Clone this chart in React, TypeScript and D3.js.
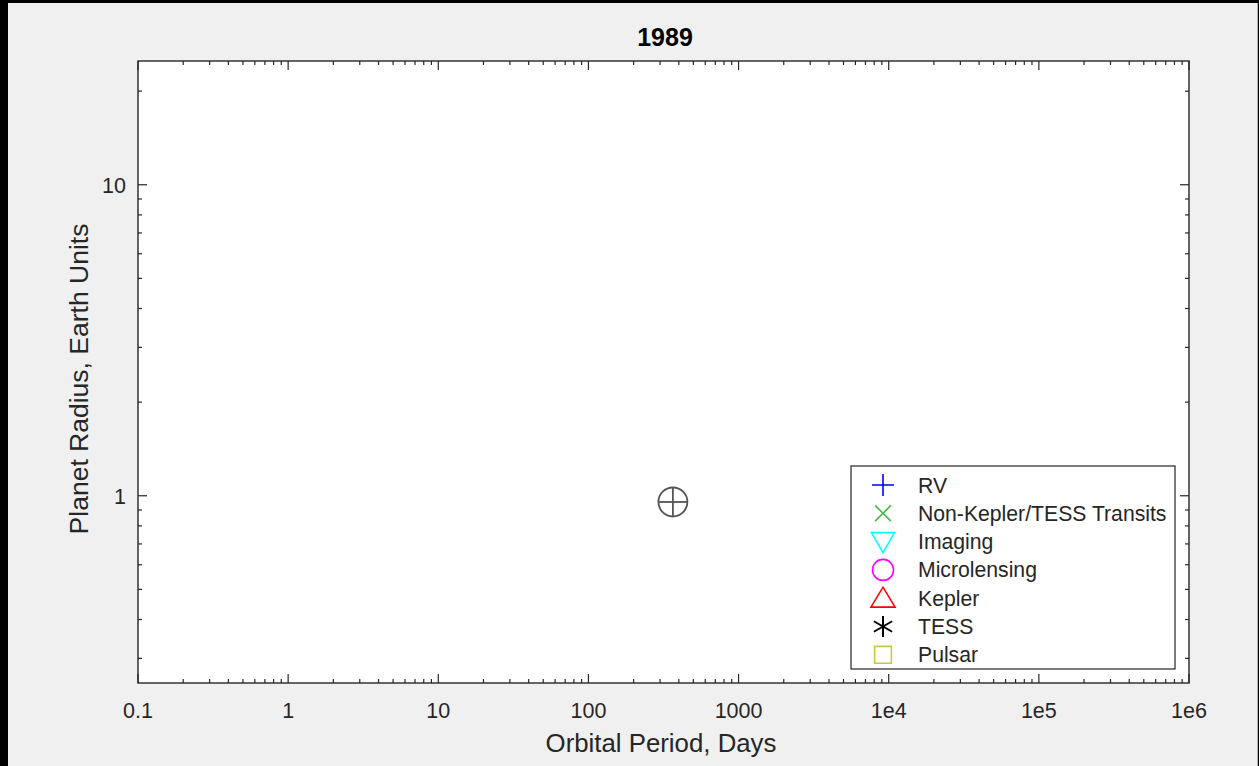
import React from "react";
import * as d3 from "d3";

// ---- Data ----
const titleText = "1989";
const xTickValues = [0.1, 1, 10, 100, 1000, 1e4, 1e5, 1e6];
const xTickLabels = ["0.1", "1", "10", "100", "1000", "1e4", "1e5", "1e6"];
const yTickValues = [1, 10];
const yTickLabels = ["1", "10"];
const xDomain = [0.1, 1e6];
const yDomain = [0.25, 25];

const methodNames = ["RV", "Non-Kepler/TESS Transits", "Imaging", "Microlensing", "Kepler", "TESS", "Pulsar"];
const methodColors = ["#0000ff", "#45bb45", "#00ffff", "#ff00ff", "#ff0000", "#000000", "#c8c840"];
const methodShapes = ["plus", "x", "tridown", "circle", "triup", "asterisk", "square"];
// planets discovered by 1989 per method (none)
const rvPeriods: number[] = [];
const rvRadii: number[] = [];

const earthPeriod = [365.25];
const earthRadius = [0.955];

const W = 1259, H = 766;
const L = 138, R = 1189, T = 61, B = 683;
const FONT = "'Liberation Sans', Arial, Helvetica, sans-serif";
const AX = "#262626";

function markerPath(shape: string, s: number): string {
  switch (shape) {
    case "plus": return `M${-s},0H${s}M0,${-s}V${s}`;
    case "x": { const a = s * 0.75; return `M${-a},${-a}L${a},${a}M${-a},${a}L${a},${-a}`; }
    case "tridown": return `M${-s * 1.1},${-s * 0.85}L${s * 1.1},${-s * 0.85}L0,${s * 1.05}Z`;
    case "triup": return `M${-s * 1.15},${s * 0.85}L${s * 1.15},${s * 0.85}L0,${-s * 1.05}Z`;
    case "circle": return `M${s},0A${s},${s} 0 1,1 ${-s},0A${s},${s} 0 1,1 ${s},0Z`;
    case "asterisk": {
      const a = s * 0.87, b = s * 0.5;
      return `M0,${-s}V${s}M${-a},${-b}L${a},${b}M${-a},${b}L${a},${-b}`;
    }
    case "square": { const a = s * 0.8; return `M${-a},${-a}H${a}V${a}H${-a}Z`; }
  }
  return "";
}

export default function App() {
  const x = d3.scaleLog().domain(xDomain).range([L, R]);
  const y = d3.scaleLog().domain(yDomain).range([B, T]);

  const xMinor: number[] = [];
  for (let e = -1; e < 6; e++) for (let k = 2; k <= 9; k++) xMinor.push(k * Math.pow(10, e));
  const yMinor: number[] = [];
  for (let e = -1; e <= 1; e++) for (let k = 2; k <= 9; k++) {
    const v = k * Math.pow(10, e);
    if (v > yDomain[0] && v < yDomain[1]) yMinor.push(v);
  }
  const MAJ = 9, MIN = 4;

  const ticks: JSX.Element[] = [];
  xTickValues.forEach((v, i) => {
    const px = x(v);
    ticks.push(<line key={"xb" + i} x1={px} x2={px} y1={B} y2={B - MAJ} />);
    ticks.push(<line key={"xt" + i} x1={px} x2={px} y1={T} y2={T + MAJ} />);
  });
  xMinor.forEach((v, i) => {
    const px = x(v);
    ticks.push(<line key={"xmb" + i} x1={px} x2={px} y1={B} y2={B - MIN} />);
    ticks.push(<line key={"xmt" + i} x1={px} x2={px} y1={T} y2={T + MIN} />);
  });
  yTickValues.forEach((v, i) => {
    const py = y(v);
    ticks.push(<line key={"yl" + i} x1={L} x2={L + MAJ} y1={py} y2={py} />);
    ticks.push(<line key={"yr" + i} x1={R} x2={R - MAJ} y1={py} y2={py} />);
  });
  yMinor.forEach((v, i) => {
    const py = y(v);
    ticks.push(<line key={"yml" + i} x1={L} x2={L + MIN} y1={py} y2={py} />);
    ticks.push(<line key={"ymr" + i} x1={R} x2={R - MIN} y1={py} y2={py} />);
  });

  const legX = 851, legY = 466, legW = 324, legH = 203;
  const rowStep = 28.3, row0 = 485;

  return (
    <svg width={W} height={H} style={{ position: "absolute", left: 0, top: 0 }} fontFamily={FONT}>
      <rect x={0} y={0} width={W} height={H} fill="#000" />
      <rect x={8} y={3} width={1249} height={H - 3} fill="#f0f0f0" />
      <rect x={1257} y={3} width={1} height={H - 3} fill="#b0b0b0" />
      <rect x={L} y={T} width={R - L} height={B - T} fill="#fff" />

      <g stroke={AX} strokeWidth={1.2}>{ticks}</g>
      <rect x={L} y={T} width={R - L} height={B - T} fill="none" stroke={AX} strokeWidth={1.4} />

      {xTickValues.map((v, i) => (
        <text key={"xl" + i} x={x(v)} y={718} textAnchor="middle" fontSize={21.5} fill={AX}>{xTickLabels[i]}</text>
      ))}
      {yTickValues.map((v, i) => (
        <text key={"yl" + i} x={126} y={y(v) + 8} textAnchor="end" fontSize={21.5} fill={AX}>{yTickLabels[i]}</text>
      ))}

      <text x={665} y={46} textAnchor="middle" fontSize={25} fontWeight="bold" fill="#000">{titleText}</text>
      <text x={661} y={752} textAnchor="middle" fontSize={25.8} fill={AX}>Orbital Period, Days</text>
      <text transform={`translate(88,379) rotate(-90)`} textAnchor="middle" fontSize={26.5} fill={AX}>Planet Radius, Earth Units</text>

      {rvPeriods.map((p, i) => (
        <path key={"rv" + i} transform={`translate(${x(p)},${y(rvRadii[i])})`} d={markerPath("plus", 8)} stroke={methodColors[0]} fill="none" />
      ))}

      {earthPeriod.map((p, i) => {
        const cx = x(p), cy = y(earthRadius[i]);
        const r = 14.5;
        return (
          <g key={"earth" + i} stroke="#555" strokeWidth={1.8} fill="none">
            <circle cx={cx} cy={cy} r={r} />
            <line x1={cx - r} x2={cx + r} y1={cy} y2={cy} />
            <line x1={cx} x2={cx} y1={cy - r} y2={cy + r} />
          </g>
        );
      })}

      <rect x={legX} y={legY} width={legW} height={legH} fill="#fff" stroke={AX} strokeWidth={1.2} />
      {methodNames.map((n, i) => {
        const cy = row0 + i * rowStep;
        const sh = methodShapes[i];
        const size = sh === "x" ? 10.5 : sh === "plus" ? 11 : sh === "asterisk" ? 10.5 : 10.5;
        const sw = sh === "asterisk" ? 2 : 1.6;
        return (
          <g key={"leg" + i}>
            <path transform={`translate(883,${cy})`} d={markerPath(sh, size)} stroke={methodColors[i]} strokeWidth={sw} fill="none" />
            <text x={918} y={cy + 7.5} fontSize={21.2} fill={AX}>{n}</text>
          </g>
        );
      })}
    </svg>
  );
}
